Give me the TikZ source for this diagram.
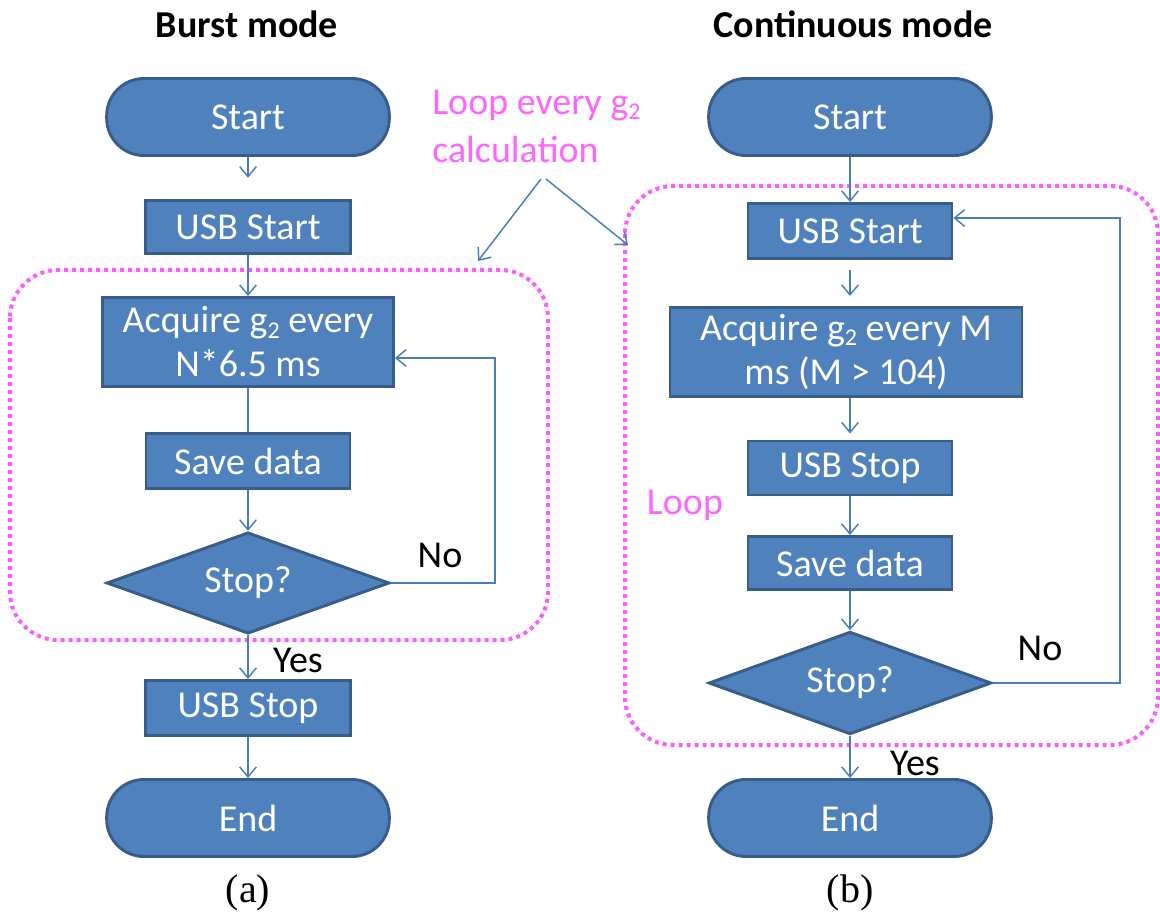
\documentclass[tikz,border=0pt]{standalone}
\usepackage{fontspec}
\setmainfont{Carlito}
\newfontfamily\tnrfont{Liberation Serif}
\usetikzlibrary{arrows.meta,shapes.geometric}
\definecolor{boxfill}{HTML}{4F81BD}
\definecolor{boxline}{HTML}{385D8A}
\definecolor{flowcol}{HTML}{4A7EBB}
\definecolor{pinkc}{HTML}{FF5CFF}
\definecolor{pinkt}{HTML}{FF66FF}
\newcommand{\gtwo}{g\raisebox{-0.3ex}{\fontsize{18pt}{18pt}\selectfont 2}}
\begin{document}
\begin{tikzpicture}[x=0.75pt,y=-0.75pt,
  every node/.style={font=\fontsize{28.5pt}{33pt}\selectfont, inner sep=0pt},
  proc/.style={draw=boxline, fill=boxfill, line width=2.2pt, text=white, align=center},
  term/.style={proc, rounded corners=28pt, minimum width=212pt, minimum height=57.75pt},
  dec/.style={proc, diamond, aspect=2.8, minimum width=212pt, minimum height=76pt},
  flow/.style={draw=flowcol, line width=1.1pt, -{Straight Barb[length=7.5pt,width=12.5pt]}},
  flowline/.style={draw=flowcol, line width=1.1pt},
  loopbox/.style={draw=pinkc, line width=3pt, dash pattern=on 3pt off 3pt, rounded corners=36pt},
  pinklabel/.style={text=pinkt},
  ttl/.style={font=\fontsize{28.5pt}{33pt}\selectfont\bfseries},
  captxt/.style={font=\fontsize{30pt}{34pt}\tnrfont}
]
\useasboundingbox (0,0) rectangle (1160,916);

% loop regions
\draw[loopbox] (10,270) rectangle (548,640);
\draw[loopbox] (625,186) rectangle (1158,745);

% titles
\node[ttl] (t1) at (247,24) {Burst mode};
\node[ttl] (t2) at (853,24) {Continuous mode};

% left column
\node[term] (sl) at (248,117) {Start};
\node[proc, minimum width=153.75pt, minimum height=39.75pt] (ul) at (248,227) {USB Start};
\node[proc, minimum width=218.25pt, minimum height=66.75pt] (al) at (248,342) {Acquire \gtwo{} every\\N*6.5 ms};
\node[proc, minimum width=153pt, minimum height=41.25pt] (vl) at (248,461) {Save data};
\node[dec] (dl) at (248,583) {Stop?};
\node[proc, minimum width=153.75pt, minimum height=41.25pt] (pl) at (248,708) {USB Stop};
\node[term] (el) at (248,818) {End};

\draw[flow, shorten >=16pt] (sl) -- (ul);
\draw[flow] (ul) -- (al);
\draw[flowline] (al) -- (vl);
\draw[flow] (vl) -- (dl);
\draw[flow] (dl) -- (pl);
\draw[flow] (pl) -- (el);
\coordinate (lt) at (495,358);
\draw[flow] (dl.east) -| (lt) -- (lt -| al.east);
\node (nol) at (440,555) {No};
\node (yesl) at (298,660) {Yes};

% right column
\node[term] (sr) at (850,117) {Start};
\node[proc, minimum width=153pt, minimum height=41.25pt] (ur) at (850,231) {USB Start};
\node[proc, minimum width=264pt, minimum height=66.75pt] (ar) at (846,352) {Acquire \gtwo{} every M\\ms (M > 104)};
\node[proc, minimum width=153pt, minimum height=40.5pt] (pr) at (850,468) {USB Stop};
\node[proc, minimum width=153pt, minimum height=39.75pt] (vr) at (850,563) {Save data};
\node[dec, minimum height=77pt] (dr) at (850,683) {Stop?};
\node[term] (er) at (850,818) {End};

\draw[flow] (sr) -- (ur);
\draw[flow, shorten <=7.5pt, shorten >=7.5pt] (ur) -- (ur |- ar.north);
\draw[flow, shorten >=4.5pt] (pr |- ar.south) -- (pr);
\draw[flow] (pr) -- (vr);
\draw[flow] (vr) -- (dr);
\draw[flow] (dr) -- (er);
\coordinate (rt) at (1120,218);
\draw[flow] (dr.east) -| (rt) -- (rt -| ur.east);
\node (nor) at (1040,648) {No};
\node (yesr) at (915,763) {Yes};

% pink labels
\node[pinklabel, anchor=west, align=left, font=\fontsize{28.5pt}{36pt}\selectfont] (lab) at (432,126) {Loop every \gtwo\\calculation};
\node[pinklabel] (loopr) at (685,505) {Loop};
\coordinate (ca) at (541,179);
\coordinate (cb) at (546,179);
\coordinate (ta) at (478,261);
\coordinate (tb) at (628,245);
\draw[flow] (ca) -- (ta);
\draw[flow] (cb) -- (tb);

% captions
\node[captxt] (capa) at (248,893) {(a)};
\node[captxt] (capb) at (850,893) {(b)};
\end{tikzpicture}
\end{document}
